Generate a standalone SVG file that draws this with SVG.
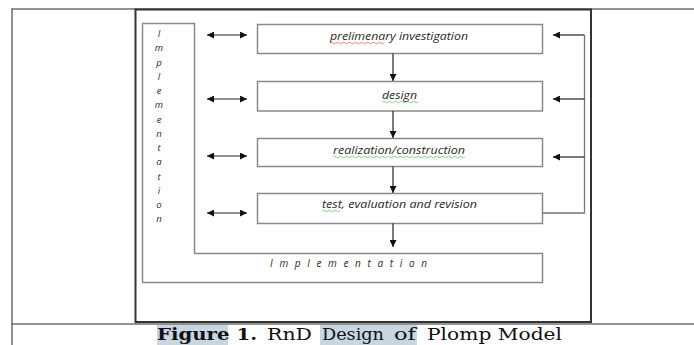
<svg xmlns="http://www.w3.org/2000/svg" width="694" height="345" viewBox="0 0 694 345">
<style>
.tbl{stroke:#6e6e6e;stroke-width:1.5;fill:none}
.frame{stroke:#333;stroke-width:2;fill:none}
.box{fill:#fff;stroke:#8a8a8a;stroke-width:1.5}
.lbl{font-family:"Open Sans","Liberation Sans",sans-serif;font-style:italic;font-size:10px;fill:#2a2a2a}
.vl{font-family:"Open Sans","Liberation Sans",sans-serif;font-style:italic;font-size:9.5px;fill:#2a2a2a;text-anchor:middle}
.ln{stroke:#222;stroke-width:1.2;fill:none}
.fb{stroke:#777;stroke-width:1.3;fill:none}
.red{stroke:#d9534f;stroke-width:0.7;fill:none}
.grn{stroke:#5cb85c;stroke-width:0.7;fill:none}
.cap{font-family:"DejaVu Serif","Liberation Serif",serif;font-size:17px;fill:#111}
</style>
<defs>
<marker id="ah" viewBox="0 0 10 10" refX="10" refY="5" markerWidth="7" markerHeight="7" markerUnits="userSpaceOnUse" orient="auto-start-reverse">
<path d="M0,0 L10,5 L0,10 z" fill="#111"/>
</marker>
</defs>
<rect width="694" height="345" fill="#fff"/>
<g id="table">
<line class="tbl" x1="11" y1="9" x2="694" y2="9"/>
<line class="tbl" x1="12" y1="9" x2="12" y2="345"/>
<line class="tbl" x1="11" y1="324" x2="694" y2="324"/>
<rect class="frame" x="135.5" y="9.5" width="455.5" height="312.5"/>
</g>
<g id="implementation">
<path d="M142.5,23.5 H194.5 V253.5 H542.5 V282.5 H142.5 Z" fill="#fff" stroke="#8a8a8a" stroke-width="1.5"/>
<text class="vl"><tspan x="159" y="37">I</tspan><tspan x="159" y="51">m</tspan><tspan x="159" y="66">p</tspan><tspan x="159" y="80">l</tspan><tspan x="159" y="94">e</tspan><tspan x="159" y="108">m</tspan><tspan x="159" y="123">e</tspan><tspan x="159" y="137">n</tspan><tspan x="159" y="151">t</tspan><tspan x="159" y="165">a</tspan><tspan x="159" y="180">t</tspan><tspan x="159" y="194">i</tspan><tspan x="159" y="208">o</tspan><tspan x="159" y="222">n</tspan></text>
<text class="lbl" x="270" y="267" textLength="157" lengthAdjust="spacing" font-size="9.5">Implementation</text>
</g>
<g id="prelim">
<rect class="box" x="257.5" y="24.5" width="285" height="29"/>
<text class="lbl" x="330" y="40" textLength="138" lengthAdjust="spacingAndGlyphs">prelimenary investigation</text>
<path class="red" d="M330,43 q1.5,-1.5 3,0 t3,0 t3,0 t3,0 t3,0 t3,0 t3,0 t3,0 t3,0 t3,0 t3,0 t3,0 t3,0 t3,0 t3,0 t3,0 t3,0 t3,0"/>
</g>
<g id="design">
<rect class="box" x="257.5" y="81.5" width="285" height="29.5"/>
<text class="lbl" x="382" y="99" textLength="35" lengthAdjust="spacingAndGlyphs">design</text>
<path class="grn" d="M382,102 q1.5,-1.5 3,0 t3,0 t3,0 t3,0 t3,0 t3,0 t3,0 t3,0 t3,0 t3,0 t3,0 t3,0"/>
</g>
<g id="realization">
<rect class="box" x="257.5" y="138.5" width="285" height="28"/>
<text class="lbl" x="333" y="154" textLength="132" lengthAdjust="spacingAndGlyphs">realization/construction</text>
<path class="grn" d="M333,157 q1.5,-1.5 3,0 t3,0 t3,0 t3,0 t3,0 t3,0 t3,0 t3,0 t3,0 t3,0 t3,0 t3,0 t3,0 t3,0 t3,0 t3,0 t3,0 t3,0 t3,0 t3,0 t3,0 t3,0 t3,0 t3,0 t3,0 t3,0 t3,0 t3,0 t3,0 t3,0 t3,0 t3,0 t3,0 t3,0 t3,0 t3,0 t3,0 t3,0 t3,0 t3,0 t3,0 t3,0 t3,0 t3,0"/>
</g>
<g id="test">
<rect class="box" x="257.5" y="193.5" width="285" height="30"/>
<text class="lbl" x="322" y="208" textLength="155" lengthAdjust="spacingAndGlyphs">test, evaluation and revision</text>
<path class="grn" d="M322,211 q1.5,-1.5 3,0 t3,0 t3,0 t3,0 t3,0 t3,0"/>
</g>
<g id="connectors">
<line class="ln" x1="393" y1="53.5" x2="393" y2="81" marker-end="url(#ah)"/>
<line class="ln" x1="393" y1="111" x2="393" y2="138" marker-end="url(#ah)"/>
<line class="ln" x1="393" y1="166.5" x2="393" y2="193" marker-end="url(#ah)"/>
<line class="ln" x1="393" y1="223.5" x2="393" y2="247" marker-end="url(#ah)"/>
<line class="ln" x1="207" y1="35" x2="247" y2="35" marker-start="url(#ah)" marker-end="url(#ah)"/>
<line class="ln" x1="207" y1="99" x2="247" y2="99" marker-start="url(#ah)" marker-end="url(#ah)"/>
<line class="ln" x1="207" y1="156" x2="247" y2="156" marker-start="url(#ah)" marker-end="url(#ah)"/>
<line class="ln" x1="207" y1="213" x2="247" y2="213" marker-start="url(#ah)" marker-end="url(#ah)"/>
<path class="fb" d="M542.5,213 H584.5 V35"/>
<line class="ln" x1="584.5" y1="35" x2="553" y2="35" marker-end="url(#ah)"/>
<line class="ln" x1="584.5" y1="99" x2="553" y2="99" marker-end="url(#ah)"/>
<line class="ln" x1="584.5" y1="157" x2="553" y2="157" marker-end="url(#ah)"/>
</g>
<g id="caption">
<rect x="157" y="325" width="71" height="20" fill="#c9d5e1"/>
<rect x="320" y="325" width="97" height="20" fill="#c9d5e1"/>
<text class="cap" y="340"><tspan x="157" font-weight="bold" textLength="100" lengthAdjust="spacingAndGlyphs">Figure 1.</tspan><tspan x="267" textLength="45" lengthAdjust="spacingAndGlyphs">RnD</tspan><tspan x="322" textLength="62" lengthAdjust="spacingAndGlyphs">Design</tspan><tspan x="394" textLength="22" lengthAdjust="spacingAndGlyphs">of</tspan><tspan x="427" textLength="135" lengthAdjust="spacingAndGlyphs">Plomp Model</tspan></text>
</g>
</svg>
